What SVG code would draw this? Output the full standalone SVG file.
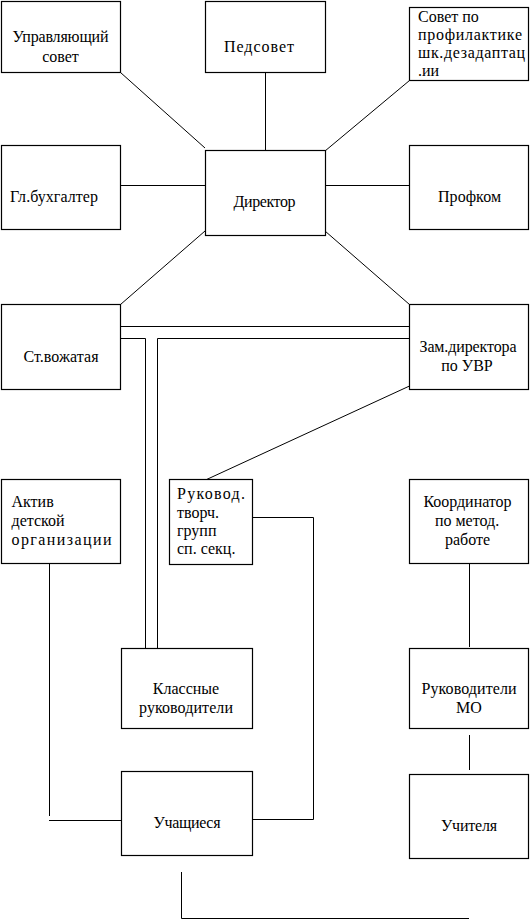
<svg xmlns="http://www.w3.org/2000/svg" width="530" height="919" viewBox="0 0 530 919">
<defs>
<style>
.b{fill:#fff;stroke:#000;stroke-width:1.2}
.c{fill:none;stroke:#000;stroke-width:1}
</style>
</defs>
<rect width="530" height="919" fill="#fff"/>
<g id="connectors" class="c">
<path d="M120.5,72.5 L205,148"/>
<path d="M265.5,72.5 V150"/>
<path d="M409.5,80.5 L325,151"/>
<path d="M120.5,185.5 H205"/>
<path d="M325,185.5 H409"/>
<path d="M205,231 L120.5,304.5"/>
<path d="M325,231 L409.5,304.5"/>
<path d="M120.5,326.5 H409"/>
<path d="M120.5,338.5 H145.5 V648"/>
<path d="M409,338.5 H157.5 V648"/>
<path d="M409.5,386 L205.5,480"/>
<path d="M252.5,517.5 H313.5 V819.5 H252.5"/>
<path d="M49.5,563 V816"/>
<path d="M49,820.5 H121"/>
<path d="M469.5,563 V647"/>
<path d="M469.5,735 V770"/>
<path d="M181.5,872 V918.5 H469"/>
</g>
<g font-family="Liberation Serif, Times New Roman, serif" font-size="16" fill="#000">
<g id="upr"><rect class="b" x="1.5" y="1.5" width="119" height="71"/><text text-anchor="middle" x="60.5" y="42" textLength="96">Управляющий</text><text text-anchor="middle" x="60.5" y="62">совет</text></g>
<g id="pedsovet"><rect class="b" x="205.5" y="1.5" width="120" height="71"/><text text-anchor="middle" x="259" y="51.5" textLength="70">Педсовет</text></g>
<g id="sovet"><rect class="b" x="409.5" y="7.5" width="119" height="73"/><text x="418" y="22">Совет по</text><text x="418" y="40" textLength="104">профилактике</text><text x="418" y="58" textLength="107">шк.дезадаптац</text><text x="418" y="76">.ии</text></g>
<g id="buh"><rect class="b" x="1.5" y="145.5" width="119" height="84"/><text text-anchor="middle" x="54" y="202" textLength="88">Гл.бухгалтер</text></g>
<g id="director"><rect class="b" x="205.5" y="150.5" width="120" height="85"/><text text-anchor="middle" x="264.5" y="207" textLength="62">Директор</text></g>
<g id="profkom"><rect class="b" x="409.5" y="145.5" width="119" height="84"/><text text-anchor="middle" x="469.5" y="202" textLength="63">Профком</text></g>
<g id="vozh"><rect class="b" x="1.5" y="304.5" width="119" height="85"/><text text-anchor="middle" x="61" y="362" textLength="75">Ст.вожатая</text></g>
<g id="zam"><rect class="b" x="409.5" y="304.5" width="119" height="85"/><text text-anchor="middle" x="468" y="352" textLength="97">Зам.директора</text><text text-anchor="middle" x="467" y="371">по УВР</text></g>
<g id="aktiv"><rect class="b" x="1.5" y="479.5" width="119" height="84"/><text x="11.5" y="507">Актив</text><text x="11.5" y="526">детской</text><text x="11.5" y="545" textLength="100">организации</text></g>
<g id="rukovod"><rect class="b" x="169.5" y="479.5" width="83" height="85"/><text x="177" y="499" textLength="68">Руковод.</text><text x="177" y="518">творч.</text><text x="177" y="536">групп</text><text x="177" y="554">сп. секц.</text></g>
<g id="koord"><rect class="b" x="409.5" y="479.5" width="119" height="84"/><text text-anchor="middle" x="467.5" y="507" textLength="88">Координатор</text><text text-anchor="middle" x="467" y="526">по метод.</text><text text-anchor="middle" x="467.5" y="545">работе</text></g>
<g id="klass"><rect class="b" x="121.5" y="648.5" width="131" height="80"/><text text-anchor="middle" x="186" y="694">Классные</text><text text-anchor="middle" x="186" y="713" textLength="94">руководители</text></g>
<g id="mo"><rect class="b" x="409.5" y="648.5" width="119" height="80"/><text text-anchor="middle" x="469" y="694" textLength="95">Руководители</text><text text-anchor="middle" x="469" y="713">МО</text></g>
<g id="uchashchiesya"><rect class="b" x="121.5" y="771.5" width="131" height="84"/><text text-anchor="middle" x="187" y="828" textLength="67">Учащиеся</text></g>
<g id="uchitelya"><rect class="b" x="409.5" y="774.5" width="119" height="84"/><text text-anchor="middle" x="469" y="831" textLength="56">Учителя</text></g>
</g>
</svg>
